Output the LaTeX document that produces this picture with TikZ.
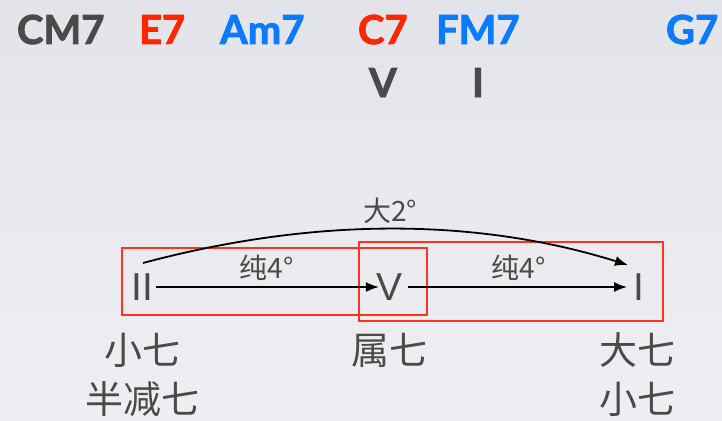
\documentclass[tikz,border=0pt]{standalone}
\usepackage{fontspec}
\usetikzlibrary{arrows.meta}
\newfontfamily\chordfont{Lato}[BoldFeatures={FakeBold=2}]
\newfontfamily\romfont{Liberation Sans}
\newfontfamily\cjkfont{Noto Sans CJK SC}
\definecolor{bgtop}{RGB}{227,228,233}
\definecolor{bgbot}{RGB}{239,239,243}
\definecolor{dgray}{RGB}{74,74,74}
\definecolor{kred}{RGB}{255,38,0}
\definecolor{kblue}{RGB}{10,122,255}
\definecolor{boxred}{RGB}{255,50,30}
\begin{document}
\begin{tikzpicture}[x=1pt,y=-1pt,
 chord/.style={font=\chordfont\bfseries\fontsize{40}{40}\selectfont, inner sep=0pt, outer sep=0pt, anchor=base west},
 rom/.style={font=\romfont\fontsize{39}{39}\selectfont, text=dgray, inner sep=0pt, outer sep=0pt},
 cjk/.style={font=\cjkfont\fontsize{38}{38}\selectfont, text=dgray, inner sep=0pt},
 intv/.style={font=\cjkfont\fontsize{28}{28}\selectfont, text=dgray, inner sep=0pt},
 arr/.style={draw=black, line width=1.8pt, -{Latex[length=13pt,width=10pt]}},
 redbox/.style={draw=boxred, line width=1.3pt}]
\shade[top color=bgtop, bottom color=bgbot] (0,0) rectangle (722,420);
\useasboundingbox (0,0) rectangle (722,420);
% chord row
\node[chord, text=dgray] (cCM) at (17,44) {CM7};
\node[chord, text=kred] (cE) at (139,44) {E7};
\node[chord, text=kblue] (cAm) at (220,44) {Am7};
\node[chord, text=kred] (cC) at (358,44) {C7};
\node[chord, text=kblue] (cFM) at (436,44) {FM7};
\node[chord, text=kblue] (cG) at (666,44) {G7};
\node[chord, text=dgray] (tV) at (369,97) {V};
\node[chord, text=dgray] (tI) at (472,97) {I};
% boxes
\draw[redbox] (122,248) rectangle (427,315);
\draw[redbox] (359,242) rectangle (663,321);
% degrees
\node[rom] (nII) at (142.5,287) {II};
\node[rom] (nV) at (390,287) {V};
\node[rom] (nI) at (638.5,287) {I};
\coordinate (cs) at (143,263);
\coordinate (ce) at (628,265);
\draw[arr, shorten <=3pt, shorten >=-2pt] (nII.east) -- (nV.west);
\draw[arr, shorten <=5pt, shorten >=6pt] (nV.east) -- (nI.west);
\draw[arr] (cs) .. controls (314.7,217) and (476.3,217.7) .. (ce);
% interval labels
\node[intv] (l1) at (266.5,268) {纯4°};
\node[intv] (l2) at (518.5,268) {纯4°};
\node[intv] (l3) at (390,211) {大2°};
% quality labels
\node[cjk] (q1) at (142,350) {小七};
\node[cjk] (q2) at (142,399) {半减七};
\node[cjk] (q3) at (389,350) {属七};
\node[cjk] (q4) at (637.5,350) {大七};
\node[cjk] (q5) at (637.5,399) {小七};
\end{tikzpicture}
\end{document}
